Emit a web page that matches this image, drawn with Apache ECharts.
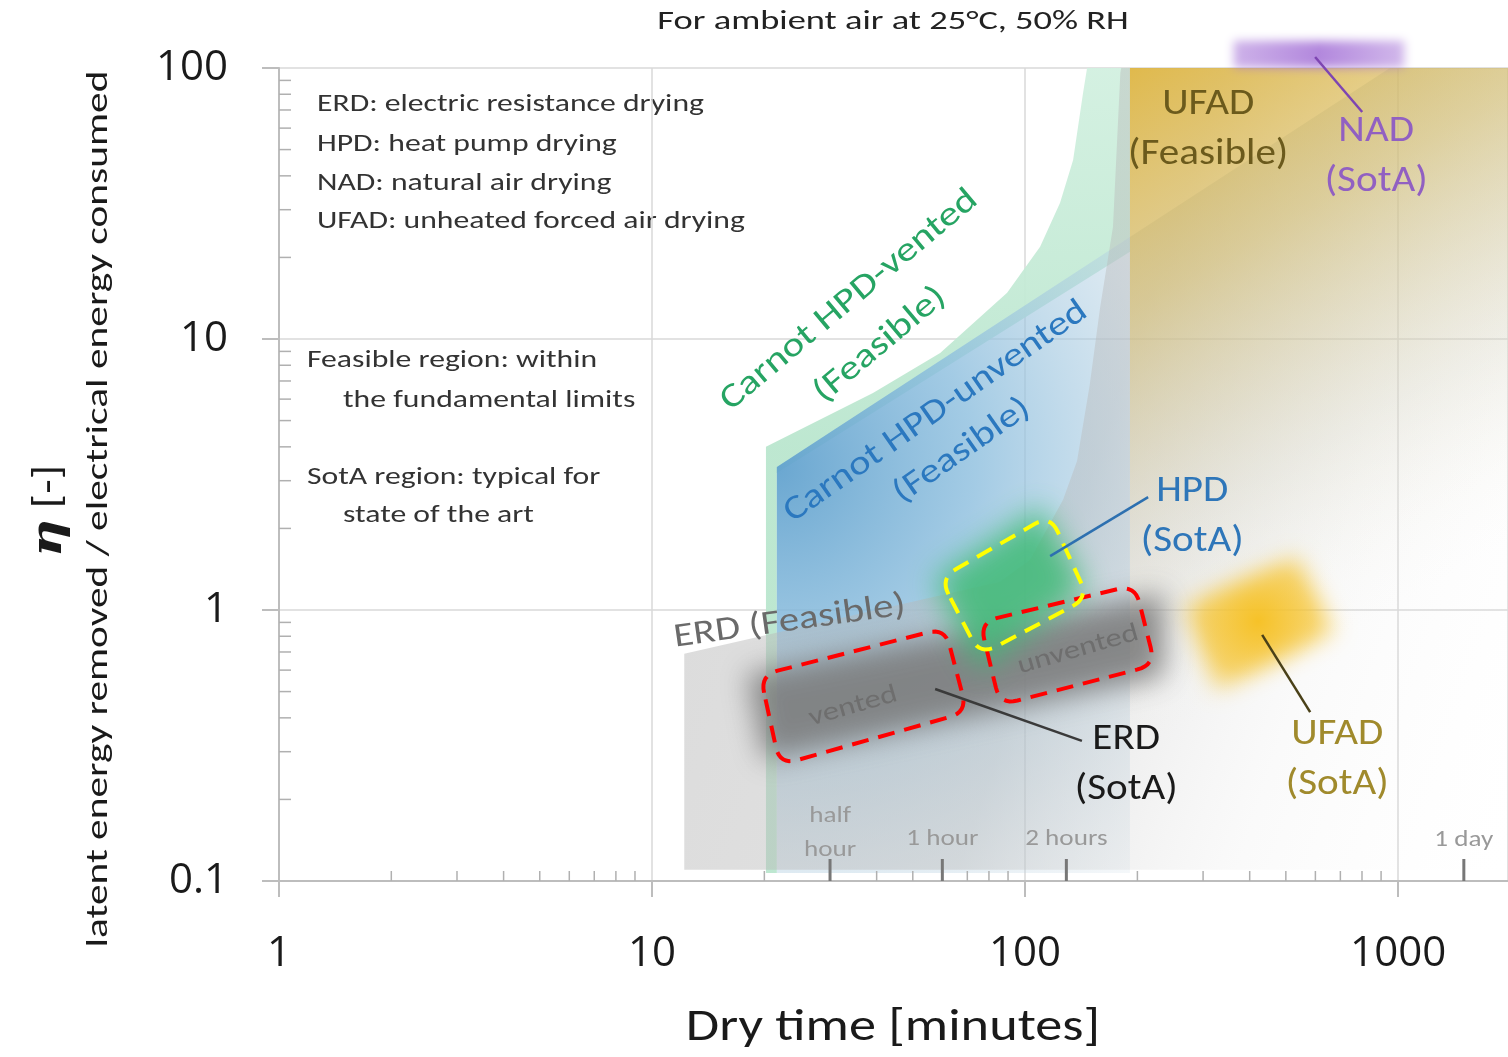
<!DOCTYPE html>
<html>
<head>
<meta charset="utf-8">
<title>Drying efficiency vs dry time</title>
<script src="https://cdn.jsdelivr.net/npm/echarts@6/dist/echarts.min.js"></script>
<style>
  html, body { margin: 0; padding: 0; background: #fff; }
  #chart { width: 1508px; height: 1057px; }
</style>
</head>
<body>
<div id="chart"></div>
<script>
// dry time in minutes (x), eta = latent energy removed / electrical energy consumed (y)
const minorTimeTicks = [2, 3, 4, 5, 6, 7, 8, 9, 20, 30, 40, 50, 60, 70, 80, 90, 200, 300, 400, 500, 600, 700, 800, 900];
const minorEtaTicks = [0.2, 0.3, 0.4, 0.5, 0.6, 0.7, 0.8, 0.9, 2, 3, 4, 5, 6, 7, 8, 9, 20, 30, 40, 50, 60, 70, 80, 90];
const timeMarks = [30, 60, 129, 1500]; // half hour, 1 hour, 2 hours, 1 day (as drawn)

// feasible regions (outlines)
const greenVented = [[20.2, 0.107], [20.2, 4.0], [39.1, 6.32], [59.2, 8.87], [89.5, 14.8], [109.7, 21.9],
  [124.1, 31.8], [134.5, 45.8], [143, 80.8], [146.6, 100], [191, 100], [191, 21], [21.6, 3.2], [21.6, 0.107]];
const blueUnventedLeft = [[21.6, 0.107], [21.6, 3.37], [191, 23.8], [191, 0.107]];
const blueUnventedRight = [[191, 0.107], [191, 23.8], [950, 100], [1970, 100], [1970, 0.107]];
const grayErd = [[12.2, 0.11], [12.2, 0.69], [33.9, 0.95], [85.7, 1.27], [103, 1.53], [116.7, 2.09], [126.4, 2.55],
  [137.8, 3.55], [149, 6.76], [158.8, 13], [172, 25.9], [180, 95.8], [181, 100], [1970, 100], [1970, 0.11]];
const goldUfad = [[191, 100], [1970, 100], [1970, 0.11], [191, 0.11]];

// state of the art regions
const erdSota = [[18, 0.58], [235, 1.15], [235, 0.57], [20, 0.28]];
const hpdSota = [[57, 1.3], [110, 2.4], [145, 1.2], [75, 0.6]];
const ufadSota = [[540, 1.62], [690, 0.83], [322, 0.49], [262, 1.04]];
const nadSota = [[362, 100], [1040, 100], [1040, 126], [362, 126]];

// dashed boxes
const ventedBox = [[19.5, 0.575], [61.0, 0.858], [69.9, 0.420], [22.0, 0.268]];
const unventedBox = [[75.7, 0.903], [197, 1.237], [223, 0.627], [85.7, 0.446]];
const hpdBox = [[59.2, 1.31], [116.7, 2.24], [147.5, 1.107], [75.7, 0.682]];

// leader lines
const nadLeader = [[599, 109.8], [801, 68.8]];
const hpdLeader = [[116.7, 1.58], [213.7, 2.61]];
const erdLeader = [[57.4, 0.511], [142, 0.329]];
const ufadLeader = [[432, 0.809], [581, 0.42]];

// text labels: text, time, eta, group
const labels = [
  ['Carnot HPD-vented', 33.8, 13.9, 'vented'],
  ['(Feasible)', 40.9, 9.5, 'vented'],
  ['Carnot HPD-unvented', 57.7, 5.38, 'unvented'],
  ['(Feasible)', 67.8, 3.86, 'unvented'],
  ['ERD (Feasible)', 23.4, 0.903, 'erdFeasible'],
  ['vented', 34.6, 0.44, 'boxText'],
  ['unvented', 138.7, 0.712, 'boxText'],
  ['UFAD', 309.6, 73.0, 'ufadFeasible'],
  ['(Feasible)', 309.6, 47.8, 'ufadFeasible'],
  ['NAD', 873, 58.0, 'nad'],
  ['(SotA)', 873, 37.9, 'nad'],
  ['HPD', 280.5, 2.72, 'hpd'],
  ['(SotA)', 280.5, 1.78, 'hpd'],
  ['ERD', 186.6, 0.331, 'erd'],
  ['(SotA)', 186.6, 0.2167, 'erd'],
  ['UFAD', 686.5, 0.3457, 'ufad'],
  ['(SotA)', 686.5, 0.226, 'ufad'],
  ['half', 30, 0.174, 'time'],
  ['hour', 30, 0.130, 'time'],
  ['1 hour', 60, 0.143, 'time'],
  ['2 hours', 129, 0.143, 'time'],
  ['1 day', 1500, 0.141, 'time']
];

const FONT = 'Carlito, Lato, "Open Sans", sans-serif';

const labelStyles = {
  vented: { color: '#26a463', size: 34, sx: 1.22, rot: 40 },
  unvented: { color: '#2b78bf', size: 34, sx: 1.2, rot: 35 },
  erdFeasible: { color: '#6a6a6a', size: 34, sx: 1.19, rot: 8 },
  boxText: { color: '#6e6e6e', size: 26, sx: 1.25, rot: 16 },
  ufadFeasible: { color: '#6b5a1c', size: 37, sx: 1.11, rot: 0 },
  nad: { color: '#9160c2', size: 37, sx: 1.11, rot: 0 },
  hpd: { color: '#2e76b9', size: 37, sx: 1.11, rot: 0 },
  erd: { color: '#1a1a1a', size: 37, sx: 1.11, rot: 0 },
  ufad: { color: '#a08a2c', size: 37, sx: 1.11, rot: 0 },
  time: { color: '#999999', size: 23, sx: 1.18, rot: 0 }
};

const SHIFT = 4000; // shapes drawn off-canvas so only their blurred shadow shows

let chart = echarts.init(document.getElementById('chart'));

function regionSeries(points, z, styleFn, shifted) {
  return {
    type: 'custom',
    data: points,
    z: z,
    silent: true,
    clip: false,
    renderItem(params, api) {
      if (params.dataIndex !== 0) return null;
      let px = points.map(p => api.coord(p));
      if (shifted) px = px.map(p => [p[0] - SHIFT, p[1]]);
      return { type: 'polygon', shape: { points: px }, style: styleFn(px) };
    }
  };
}

function blurred(color, blur, fillFn) {
  return px => ({ fill: fillFn ? fillFn(px) : '#000', shadowColor: color, shadowBlur: blur, shadowOffsetX: SHIFT, shadowOffsetY: 0 });
}

function centerOf(px) {
  let cx = 0, cy = 0;
  px.forEach(p => { cx += p[0]; cy += p[1]; });
  return [cx / px.length, cy / px.length];
}

function roundCorners(px, r, steps) {
  let out = [];
  let n = px.length;
  for (let i = 0; i < n; i++) {
    let p = px[i], a = px[(i + n - 1) % n], b = px[(i + 1) % n];
    let la = Math.hypot(a[0] - p[0], a[1] - p[1]), lb = Math.hypot(b[0] - p[0], b[1] - p[1]);
    let s = [p[0] + (a[0] - p[0]) * r / la, p[1] + (a[1] - p[1]) * r / la];
    let e = [p[0] + (b[0] - p[0]) * r / lb, p[1] + (b[1] - p[1]) * r / lb];
    for (let k = 0; k <= steps; k++) {
      let t = k / steps;
      out.push([
        (1 - t) * (1 - t) * s[0] + 2 * (1 - t) * t * p[0] + t * t * e[0],
        (1 - t) * (1 - t) * s[1] + 2 * (1 - t) * t * p[1] + t * t * e[1]
      ]);
    }
  }
  return out;
}

function boxSeries(points, color, z) {
  return {
    type: 'custom', data: points, z: z, silent: true, clip: false,
    renderItem(params, api) {
      if (params.dataIndex !== 0) return null;
      let px = roundCorners(points.map(p => api.coord(p)), 18, 8);
      return { type: 'polygon', shape: { points: px },
        style: { fill: 'none', stroke: color, lineWidth: 4, lineDash: [17, 10] } };
    }
  };
}

function leaderSeries(points, color) {
  return {
    type: 'custom', data: points, z: 20, silent: true, clip: false,
    renderItem(params, api) {
      if (params.dataIndex !== 0) return null;
      let a = api.coord(points[0]), b = api.coord(points[1]);
      return { type: 'line', shape: { x1: a[0], y1: a[1], x2: b[0], y2: b[1] },
        style: { stroke: color, lineWidth: 2.5 } };
    }
  };
}

function tickSeries(values, onX, len, color, width) {
  return {
    type: 'custom', z: 25, silent: true, clip: false,
    data: values.map(v => onX ? [v, 0.1] : [1, v]),
    renderItem(params, api) {
      let p = api.coord([api.value(0), api.value(1)]);
      let q = onX ? [p[0], p[1] - len] : [p[0] + len, p[1]];
      return { type: 'line', shape: { x1: p[0], y1: p[1], x2: q[0], y2: q[1] },
        style: { stroke: color, lineWidth: width } };
    }
  };
}

const labelSeries = {
  type: 'custom', z: 30, silent: true, clip: false,
  data: labels.map(l => [l[1], l[2]]),
  renderItem(params, api) {
    let l = labels[params.dataIndex];
    let st = labelStyles[l[3]];
    let p = api.coord([api.value(0), api.value(1)]);
    return {
      type: 'text', x: p[0], y: p[1], rotation: st.rot * Math.PI / 180, scaleX: st.sx,
      style: { text: l[0], fill: st.color, font: st.size + 'px ' + FONT, align: 'center', verticalAlign: 'middle' }
    };
  }
};

function note(text, x, y) {
  return { type: 'text', x: x, y: y, scaleX: 1.32,
    style: { text: text, font: '24px ' + FONT, fill: '#333', verticalAlign: 'middle' } };
}

const option = {
  animation: false,
  backgroundColor: '#ffffff',
  grid: { left: 279, right: 0, top: 68, bottom: 176 },
  xAxis: {
    type: 'log', logBase: 10, min: 1, max: 1970,
    axisLine: { lineStyle: { color: '#bdbdbd', width: 2 } },
    axisTick: { length: 16, lineStyle: { color: '#bdbdbd', width: 2 } },
    axisLabel: { fontSize: 42, color: '#1a1a1a', margin: 52, fontFamily: '"Open Sans", sans-serif',
      showMaxLabel: false, formatter: v => String(v) },
    splitLine: { show: true, lineStyle: { color: '#d9d9d9', width: 1.5 } }
  },
  yAxis: {
    type: 'log', logBase: 10, min: 0.1, max: 100,
    axisLine: { show: true, lineStyle: { color: '#bdbdbd', width: 2 } },
    axisTick: { show: true, length: 17, lineStyle: { color: '#bdbdbd', width: 2 } },
    axisLabel: { fontSize: 42, color: '#1a1a1a', margin: 51, fontFamily: '"Open Sans", sans-serif' },
    splitLine: { show: true, lineStyle: { color: '#d9d9d9', width: 1.5 } }
  },
  graphic: [
    { type: 'text', x: 893, y: 22, scaleX: 1.4,
      style: { text: 'For ambient air at 25°C, 50% RH', font: '26px ' + FONT, fill: '#222', align: 'center', verticalAlign: 'middle' } },
    { type: 'text', x: 893, y: 1028, scaleX: 1.18,
      style: { text: 'Dry time [minutes]', font: '46px ' + FONT, fill: '#1a1a1a', align: 'center', verticalAlign: 'middle' } },
    { type: 'text', x: 50, y: 511, rotation: Math.PI / 2, scaleX: 1.25,
      style: { text: '{e|η} [-]', font: '38px ' + FONT, fill: '#1a1a1a', align: 'center', verticalAlign: 'middle',
        rich: { e: { font: 'bold italic 42px "DejaVu Serif"', fill: '#1a1a1a' } } } },
    { type: 'text', x: 99, y: 509, rotation: Math.PI / 2, scaleX: 1.38,
      style: { text: 'latent energy removed / electrical energy consumed', font: '30px ' + FONT, fill: '#1a1a1a', align: 'center', verticalAlign: 'middle' } },
    note('ERD: electric resistance drying', 317, 105),
    note('HPD: heat pump drying', 317, 145),
    note('NAD: natural air drying', 317, 184),
    note('UFAD: unheated forced air drying', 317, 222),
    note('Feasible region: within', 307, 361),
    note('the fundamental limits', 343, 401),
    note('SotA region: typical for', 307, 478),
    note('state of the art', 343, 516)
  ],
  series: [
    regionSeries(greenVented, 1, px => ({
      fill: new echarts.graphic.LinearGradient(0, px[9][1], 0, px[1][1], [
        { offset: 0, color: 'rgba(210,240,224,0.95)' },
        { offset: 1, color: 'rgba(186,230,206,0.95)' }
      ], true)
    })),
    regionSeries(blueUnventedLeft, 2, px => ({
      fill: new echarts.graphic.RadialGradient(px[1][0], px[1][1], 660, [
        { offset: 0, color: 'rgba(98,162,206,0.95)' },
        { offset: 0.3, color: 'rgba(140,190,222,0.8)' },
        { offset: 0.65, color: 'rgba(185,210,226,0.4)' },
        { offset: 1, color: 'rgba(225,230,235,0)' }
      ], true)
    })),
    regionSeries(blueUnventedRight, 2, px => {
      // fade away from the upper (sloped) edge
      let a = px[1], b = px[2];
      let dx = b[0] - a[0], dy = b[1] - a[1], len = Math.hypot(dx, dy);
      let nx = -dy / len, ny = dx / len;
      let mx = (a[0] + b[0]) / 2, my = (a[1] + b[1]) / 2;
      return {
        fill: new echarts.graphic.LinearGradient(mx, my, mx + nx * 400, my + ny * 400, [
          { offset: 0, color: 'rgba(120,150,172,0.34)' },
          { offset: 0.5, color: 'rgba(170,185,198,0.18)' },
          { offset: 1, color: 'rgba(225,228,232,0)' }
        ], true)
      };
    }),
    regionSeries(grayErd, 3, px => ({
      fill: new echarts.graphic.LinearGradient(px[0][0], px[1][1] - 60, px[13][0], px[0][1], [
        { offset: 0, color: 'rgba(185,185,185,0.5)' },
        { offset: 0.4, color: 'rgba(185,185,185,0.42)' },
        { offset: 0.7, color: 'rgba(220,220,220,0.15)' },
        { offset: 1, color: 'rgba(245,245,245,0)' }
      ], true)
    })),
    regionSeries(goldUfad, 4, px => ({
      fill: new echarts.graphic.LinearGradient(px[0][0], px[0][1], px[0][0] + 300, px[0][1] + 520, [
        { offset: 0, color: 'rgba(224,180,56,0.88)' },
        { offset: 0.35, color: 'rgba(222,192,98,0.55)' },
        { offset: 0.7, color: 'rgba(220,214,186,0.28)' },
        { offset: 1, color: 'rgba(240,240,235,0)' }
      ], true)
    })),
    regionSeries(erdSota, 6, blurred('rgba(120,120,120,0.85)', 28), true),
    regionSeries(hpdSota, 7, blurred('rgba(62,186,118,0.85)', 30), true),
    regionSeries(ufadSota, 7, blurred('rgba(246,194,40,1)', 22, px => {
      let c = centerOf(px);
      return new echarts.graphic.RadialGradient(c[0], c[1], 90, [
        { offset: 0, color: 'rgba(0,0,0,1)' },
        { offset: 0.6, color: 'rgba(0,0,0,0.7)' },
        { offset: 1, color: 'rgba(0,0,0,0.35)' }
      ], true);
    }), true),
    regionSeries(nadSota, 7, blurred('rgba(165,115,215,1)', 10, px => {
      let c = centerOf(px);
      return new echarts.graphic.LinearGradient(px[0][0], c[1], px[1][0], c[1], [
        { offset: 0, color: 'rgba(0,0,0,0.55)' },
        { offset: 0.5, color: 'rgba(0,0,0,0.85)' },
        { offset: 1, color: 'rgba(0,0,0,0.5)' }
      ], true);
    }), true),
    boxSeries(ventedBox, '#ff0000', 10),
    boxSeries(unventedBox, '#ff0000', 10),
    boxSeries(hpdBox, '#ffff00', 11),
    leaderSeries(nadLeader, '#7e45b2'),
    leaderSeries(hpdLeader, '#2d70b0'),
    leaderSeries(erdLeader, '#3a3a3a'),
    leaderSeries(ufadLeader, '#4a4118'),
    tickSeries(minorTimeTicks, true, 10, '#b0b0b0', 1.5),
    tickSeries(minorEtaTicks, false, 12, '#b0b0b0', 1.5),
    tickSeries(timeMarks, true, 22, '#777777', 3),
    labelSeries
  ]
};

chart.setOption(option);
</script>
</body>
</html>
